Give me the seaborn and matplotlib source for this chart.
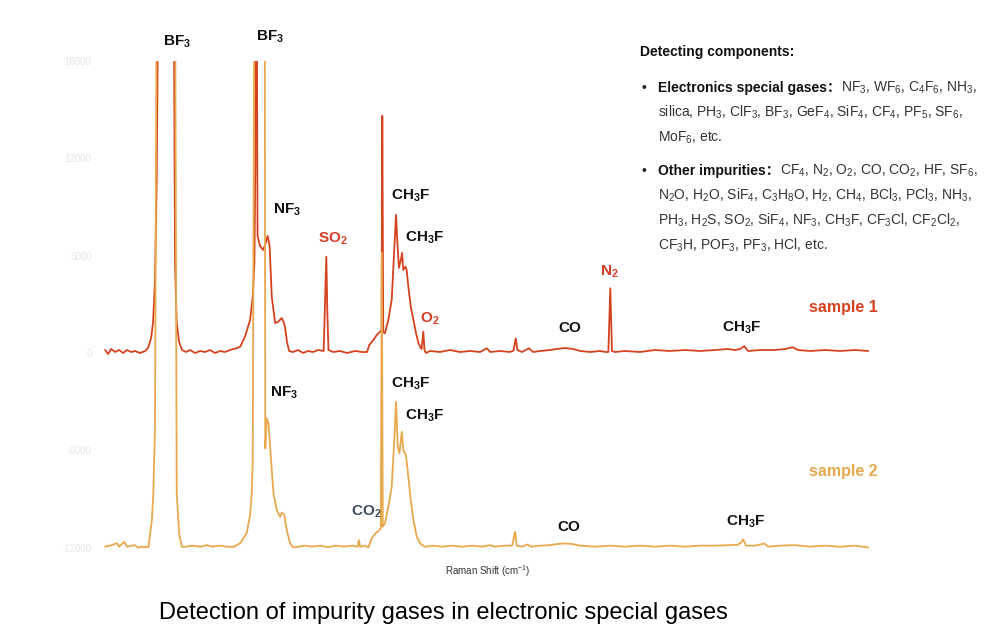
import numpy as np
import pandas as pd
import seaborn as sns
import matplotlib.pyplot as plt

# Raman spectra (shift in cm-1, intensity in counts)
shift_1 = [238, 251, 263, 280, 296, 313, 329, 346, 362, 383, 404, 416, 429, 437, 445, 452, 458, 491, 523, 528,
           535, 545, 557, 574, 590, 611, 632, 653, 673, 694, 715, 735, 756, 770, 785, 798, 818, 839, 850, 857,
           861, 864, 867, 870, 880, 893, 903, 912, 920, 929, 943, 955, 970, 978, 984, 992, 1001, 1017, 1038, 1059,
           1079, 1100, 1121, 1144, 1150, 1155, 1159, 1164, 1183, 1212, 1241, 1274, 1303, 1324, 1333, 1350, 1364, 1378, 1384, 1387,
           1391, 1398, 1412, 1426, 1433, 1440, 1444, 1449, 1456, 1464, 1469, 1474, 1483, 1488, 1495, 1505, 1516, 1527, 1537, 1547,
           1550, 1557, 1562, 1568, 1585, 1626, 1668, 1709, 1751, 1792, 1820, 1834, 1875, 1916, 1931, 1940, 1947, 1966, 1995, 2012,
           2041, 2082, 2111, 2144, 2177, 2207, 2248, 2289, 2314, 2324, 2332, 2339, 2352, 2393, 2455, 2517, 2580, 2642, 2704, 2766,
           2820, 2849, 2870, 2887, 2903, 2953, 3015, 3056, 3088, 3110, 3160, 3222, 3284, 3346, 3401]
inten_1 = [185, -62, 247, 62, 185, 0, 185, 62, 124, 0, 124, 308, 925, 1913, 4504, 10674, 22000, 90000, 22000, 5553,
           1851, 679, 185, 62, 185, 0, 124, 62, 185, 0, 124, 62, 185, 247, 300, 389, 1006, 2036, 3474, 5553,
           11723, 40000, 22000, 7219, 6602, 6355, 6725, 7219, 6602, 3455, 1851, 1913, 2160, 1913, 1604, 679, 123, 62, 185, 0,
           124, 62, 185, 123, 3270, 5923, 2653, 185, 62, 124, 0, 124, 62, 62, 494, 802, 1111, 1314, 1419, 14623,
           1300, 1215, 2036, 3270, 5325, 7404, 8515, 6972, 5245, 5738, 6170, 5121, 5325, 5121, 4091, 2857, 2036, 1215, 598, 290,
           250, 1314, 185, 0, 124, 62, 185, 62, 124, 62, 290, 62, 124, 62, 150, 907, 185, 62, 290, 62,
           124, 185, 247, 308, 247, 124, 62, 124, 62, 62, 3992, 123, 62, 124, 62, 185, 124, 185, 124, 185,
           247, 185, 247, 420, 124, 185, 185, 247, 350, 185, 124, 185, 124, 185, 124]

shift_2 = [238, 259, 287, 296, 317, 329, 346, 362, 375, 391, 408, 418, 432, 438, 445, 451, 491, 529, 535, 545,
           556, 574, 599, 632, 660, 682, 715, 744, 770, 798, 825, 839, 846, 850, 856, 876, 900, 902, 908, 915,
           922, 929, 936, 950, 963, 970, 980, 991, 1005, 1018, 1038, 1067, 1096, 1129, 1162, 1195, 1229, 1262, 1285, 1290,
           1295, 1316, 1329, 1343, 1361, 1375, 1381, 1385, 1389, 1398, 1412, 1426, 1436, 1444, 1451, 1458, 1468, 1474, 1485, 1495,
           1505, 1516, 1530, 1544, 1564, 1593, 1635, 1676, 1718, 1759, 1800, 1834, 1854, 1896, 1925, 1937, 1944, 1966, 1988, 2004,
           2041, 2082, 2115, 2144, 2173, 2207, 2269, 2331, 2393, 2455, 2517, 2580, 2642, 2704, 2766, 2828, 2861, 2874, 2883, 2894,
           2932, 2970, 2986, 3035, 3098, 3160, 3222, 3284, 3346, 3401]
inten_2 = [62, 124, 278, 62, 358, 62, 124, 154, 0, 62, 31, 49, 1697, 3363, 7497, 32000, 150000, 32000, 3363, 895,
           49, 62, 124, 62, 154, 62, 124, 62, 49, 278, 895, 2005, 3363, 5399, 32000, 150000, 32000, 6121, 7972, 7683,
           6219, 4782, 3332, 2314, 1900, 2147, 2067, 1080, 259, 12, 62, 124, 62, 124, 31, 124, 62, 124, 62, 463,
           62, 124, 12, 571, 913, 1080, 1200, 18171, 1300, 1493, 2517, 3751, 6429, 8996, 6219, 5812, 7145, 6016, 5707, 4368,
           2931, 1697, 666, 259, 49, 124, 62, 124, 62, 124, 62, 154, 62, 124, 124, 975, 124, 62, 197, 62,
           124, 154, 228, 259, 228, 124, 62, 124, 62, 124, 62, 124, 62, 124, 124, 154, 185, 330, 506, 124,
           124, 259, 62, 124, 154, 62, 124, 62, 124, 12]

samples = ["sample 1", "sample 2"]
offsets = [0, -12000]
colors = ["#d5421f", "#e8a84c"]

df = pd.concat([
    pd.DataFrame({"shift": shift_1, "intensity": inten_1, "sample": samples[0]}),
    pd.DataFrame({"shift": shift_2, "intensity": inten_2, "sample": samples[1]}),
], ignore_index=True)
df["plotted"] = df["intensity"] + df["sample"].map(dict(zip(samples, offsets)))

sns.set_theme(style="white")
plt.rcParams['font.family'] = ['Liberation Sans', 'DejaVu Sans']
plt.rcParams['mathtext.fontset'] = 'custom'
plt.rcParams['mathtext.rm'] = 'Liberation Sans'
plt.rcParams['mathtext.it'] = 'Liberation Sans:italic'
plt.rcParams['mathtext.bf'] = 'Liberation Sans:bold'

fig = plt.figure(figsize=(10.07, 6.41), dpi=100)
ax = fig.add_axes([0.0993, 0.1279, 0.7696, 0.7769])

sns.lineplot(data=df, x="shift", y="plotted", hue="sample", hue_order=samples,
             palette=colors, estimator=None, sort=False, linewidth=1.3, legend=False, ax=ax)

ax.set_xlim(217, 3429)
ax.set_ylim(-12700, 18000)
ax.set_yticks([-12000, -6000, 0, 6000, 12000, 18000])
ax.set_yticklabels(["-12000", "-6000", "0", "6000", "12000", "18000"], color="#e6e6e6", fontsize=7)
ax.set_xticks([])
ax.tick_params(axis="y", length=0, pad=6)
ax.set_xlabel("Raman Shift (cm$^{-1}$)", fontsize=7, color="#333333", labelpad=3)
ax.set_ylabel("")
sns.despine(ax=ax, left=True, bottom=True)

# peak labels
blk = "#111111"
red = "#d63c28"
labels = [
    (537, 19189, r"BF$_\mathbf{3}$", blk), (922, 19497, r"BF$_\mathbf{3}$", blk),
    (992, 8823, r"NF$_\mathbf{3}$", blk), (1183, 7034, r"SO$_\mathbf{2}$", red),
    (1506, 9687, r"CH$_\mathbf{3}$F", blk), (1564, 7096, r"CH$_\mathbf{3}$F", blk),
    (1585, 2098, r"O$_\mathbf{2}$", red), (2327, 4998, r"N$_\mathbf{2}$", red),
    (2165, 1543, "CO", blk), (2878, 1543, r"CH$_\mathbf{3}$F", blk),
    (980, -2468, r"NF$_\mathbf{3}$", blk), (1506, -1913, r"CH$_\mathbf{3}$F", blk),
    (1564, -3887, r"CH$_\mathbf{3}$F", blk), (1320, -9810, r"CO$_\mathbf{2}$", "#3e4b5e"),
    (2161, -10736, "CO", blk), (2894, -10427, r"CH$_\mathbf{3}$F", blk),
]
for x, y, s, c in labels:
    ax.text(x, y, s, color=c, fontsize=11, fontweight="bold", ha="center", va="center", clip_on=False)

ax.text(3296, 2777, "sample 1", color=colors[0], fontsize=11.5, fontweight="bold", ha="center", va="center")
ax.text(3296, -7281, "sample 2", color=colors[1], fontsize=11.5, fontweight="bold", ha="center", va="center")

# right-hand text block
fam = ['Liberation Sans', 'Noto Sans CJK SC']
fs = 10
fig.text(640 / 1007, 1 - 56 / 641, "Detecting components:", fontsize=fs, fontweight="bold",
         family=fam, color="#111111", va="baseline")

block = [
    (92, "Electronics special gases：", r"NF$_3$, WF$_6$, C$_4$F$_6$, NH$_3$,"),
    (117, None, r"silica, PH$_3$, ClF$_3$, BF$_3$, GeF$_4$, SiF$_4$, CF$_4$, PF$_5$, SF$_6$,"),
    (142, None, r"MoF$_6$, etc."),
    (175, "Other impurities：", r"CF$_4$, N$_2$, O$_2$, CO, CO$_2$, HF, SF$_6$,"),
    (200, None, r"N$_2$O, H$_2$O, SiF$_4$, C$_3$H$_8$O, H$_2$, CH$_4$, BCl$_3$, PCl$_3$, NH$_3$,"),
    (225, None, r"PH$_3$, H$_2$S, SO$_2$, SiF$_4$, NF$_3$, CH$_3$F, CF$_3$Cl, CF$_2$Cl$_2$,"),
    (250, None, r"CF$_3$H, POF$_3$, PF$_3$, HCl, etc."),
]
fig.canvas.draw()
renderer = fig.canvas.get_renderer()
for ypx, head, rest in block:
    yf = 1 - ypx / 641
    x0 = 658 / 1007
    if head is not None:
        fig.text(641 / 1007, yf, "•", fontsize=fs, family=fam, color="#222222", va="baseline")
        t = fig.text(x0, yf, head, fontsize=fs, fontweight="bold", family=fam, color="#111111", va="baseline")
        bb = t.get_window_extent(renderer)
        x0 = bb.x1 / fig.bbox.width
    fig.text(x0, yf, rest, fontsize=fs, family=fam, color="#333333", va="baseline")

fig.text(443 / 1007, 1 - 613 / 641, "Detection of impurity gases in electronic special gases",
         fontsize=17, ha="center", va="center", color="#000000")

fig.savefig("out.png", dpi=100)
